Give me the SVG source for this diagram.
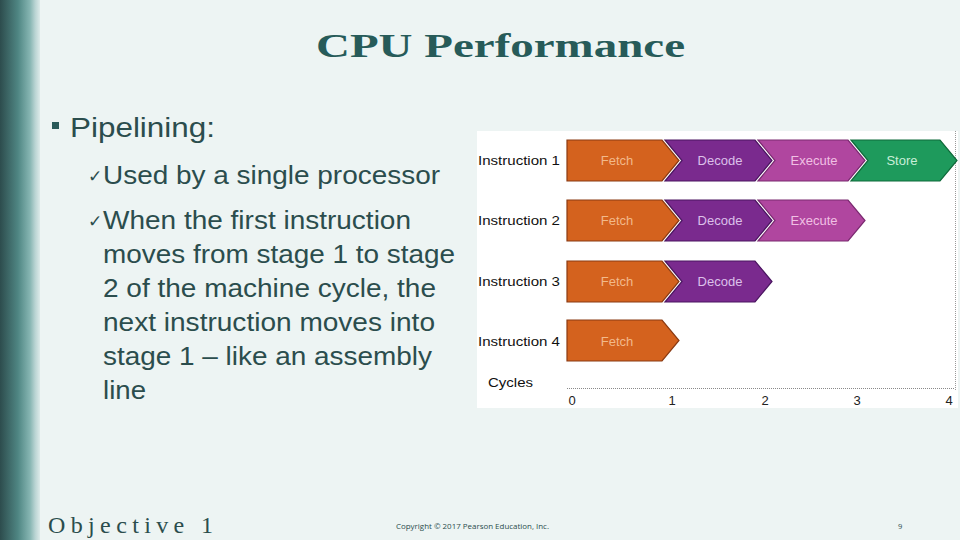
<svg xmlns="http://www.w3.org/2000/svg" width="960" height="540" viewBox="0 0 960 540">
<defs>
<linearGradient id="band" x1="0" y1="0" x2="1" y2="0">
<stop offset="0" stop-color="#2D4C4D"/>
<stop offset="0.45" stop-color="#4F8683"/>
<stop offset="0.75" stop-color="#86B5B2"/>
<stop offset="0.88" stop-color="#B9D4D3"/>
<stop offset="1" stop-color="#DCEAE9"/>
</linearGradient>
</defs>
<style>
.body{font-family:"Liberation Sans",Arial,sans-serif;fill:#2B4D4D}
.lab{font-family:"Liberation Sans",Arial,sans-serif;font-size:13px;fill:#111}
.st{font-family:"Liberation Sans",Arial,sans-serif;font-size:13px;text-anchor:middle}
.fetch{fill:#D4621E;stroke:#8A3A12;stroke-width:1.2}
.decode{fill:#7A2A8E;stroke:#4A1560;stroke-width:1.2}
.exec{fill:#B0469F;stroke:#7A2A70;stroke-width:1.2}
.store{fill:#1E9A5C;stroke:#0F6A3A;stroke-width:1.2}
.tf{fill:#F2B98A}.td{fill:#DCC0EA}.te{fill:#F0C0E4}.ts{fill:#C8EED8}
.chk{font-family:"DejaVu Sans",sans-serif;font-size:17px;fill:#2B4D4D}
</style>
<rect width="960" height="540" fill="#EDF4F3"/>
<rect x="0" y="0" width="40" height="540" fill="url(#band)"/>

<g id="title">
<text x="316" y="57" font-family="Liberation Serif,'Times New Roman',serif" font-weight="bold" font-size="33" fill="#275B59" textLength="369" lengthAdjust="spacingAndGlyphs">CPU Performance</text>
</g>

<g id="bullets">
<rect x="52" y="122" width="7" height="7" fill="#2B5B5A"/>
<text class="body" x="70" y="137" font-size="28" textLength="145" lengthAdjust="spacingAndGlyphs">Pipelining:</text>
<text class="chk" x="88" y="182">✓</text>
<text class="body" x="103" y="184" font-size="25" textLength="337" lengthAdjust="spacingAndGlyphs">Used by a single processor</text>
<text class="chk" x="88" y="227">✓</text>
<text class="body" x="103" y="229" font-size="25" textLength="308" lengthAdjust="spacingAndGlyphs">When the first instruction</text>
<text class="body" x="103" y="263" font-size="25" textLength="352" lengthAdjust="spacingAndGlyphs">moves from stage 1 to stage</text>
<text class="body" x="103" y="297" font-size="25" textLength="333" lengthAdjust="spacingAndGlyphs">2 of the machine cycle, the</text>
<text class="body" x="103" y="331" font-size="25" textLength="332" lengthAdjust="spacingAndGlyphs">next instruction moves into</text>
<text class="body" x="103" y="365" font-size="25" textLength="329" lengthAdjust="spacingAndGlyphs">stage 1 – like an assembly</text>
<text class="body" x="103" y="399" font-size="25" textLength="43" lengthAdjust="spacingAndGlyphs">line</text>
</g>

<g id="pipeline-panel">
<rect x="477" y="131" width="481" height="277" fill="#FFFFFF"/>
<line x1="955.5" y1="131" x2="955.5" y2="390" stroke="#9A9A9A" stroke-width="1" stroke-dasharray="1 1"/>
</g>

<g id="instruction-1">
<text class="lab" x="478" y="165" textLength="82" lengthAdjust="spacingAndGlyphs">Instruction 1</text>
<polygon class="fetch" points="567,140 662,140 679,160.5 662,181 567,181"/>
<text class="st tf" x="617" y="165">Fetch</text>
<polygon class="decode" points="665,140 755,140 772,160.5 755,181 665,181 682,160.5"/>
<text class="st td" x="720" y="165">Decode</text>
<polygon class="exec" points="758,140 848,140 865,160.5 848,181 758,181 775,160.5"/>
<text class="st te" x="814" y="165">Execute</text>
<polygon class="store" points="851,140 940,140 957,160.5 940,181 851,181 868,160.5"/>
<text class="st ts" x="902" y="165">Store</text>
</g>

<g id="instruction-2">
<text class="lab" x="478" y="225" textLength="82" lengthAdjust="spacingAndGlyphs">Instruction 2</text>
<polygon class="fetch" points="567,200 662,200 679,220.5 662,241 567,241"/>
<text class="st tf" x="617" y="225">Fetch</text>
<polygon class="decode" points="665,200 755,200 772,220.5 755,241 665,241 682,220.5"/>
<text class="st td" x="720" y="225">Decode</text>
<polygon class="exec" points="758,200 848,200 865,220.5 848,241 758,241 775,220.5"/>
<text class="st te" x="814" y="225">Execute</text>
</g>

<g id="instruction-3">
<text class="lab" x="478" y="286" textLength="82" lengthAdjust="spacingAndGlyphs">Instruction 3</text>
<polygon class="fetch" points="567,261 662,261 679,281.5 662,302 567,302"/>
<text class="st tf" x="617" y="286">Fetch</text>
<polygon class="decode" points="665,261 755,261 772,281.5 755,302 665,302 682,281.5"/>
<text class="st td" x="720" y="286">Decode</text>
</g>

<g id="instruction-4">
<text class="lab" x="478" y="346" textLength="82" lengthAdjust="spacingAndGlyphs">Instruction 4</text>
<polygon class="fetch" points="567,320 662,320 679,340.5 662,361 567,361"/>
<text class="st tf" x="617" y="346">Fetch</text>
</g>

<g id="connectors">
<line x1="567" y1="388.5" x2="955" y2="388.5" stroke="#8A8A8A" stroke-width="1" stroke-dasharray="1 1"/>
<text class="lab" x="488" y="387" textLength="45" lengthAdjust="spacingAndGlyphs">Cycles</text>
<text class="st" x="572" y="405" fill="#222">0</text>
<text class="st" x="672" y="405" fill="#222">1</text>
<text class="st" x="765" y="405" fill="#222">2</text>
<text class="st" x="857" y="405" fill="#222">3</text>
<text class="st" x="949" y="405" fill="#222">4</text>
</g>

<g id="footer">
<text x="48" y="533" font-family="Liberation Serif,'Times New Roman',serif" font-size="24" fill="#2B4D4D" textLength="165" lengthAdjust="spacing">Objective 1</text>
<text x="396" y="529" font-family="'Open Sans','Liberation Sans',sans-serif" font-size="7.5" fill="#2B4D4D" textLength="153" lengthAdjust="spacingAndGlyphs">Copyright © 2017 Pearson Education, Inc.</text>
<text x="898" y="529" font-family="'Open Sans','Liberation Sans',sans-serif" font-size="7.5" fill="#2B4D4D">9</text>
</g>
</svg>
